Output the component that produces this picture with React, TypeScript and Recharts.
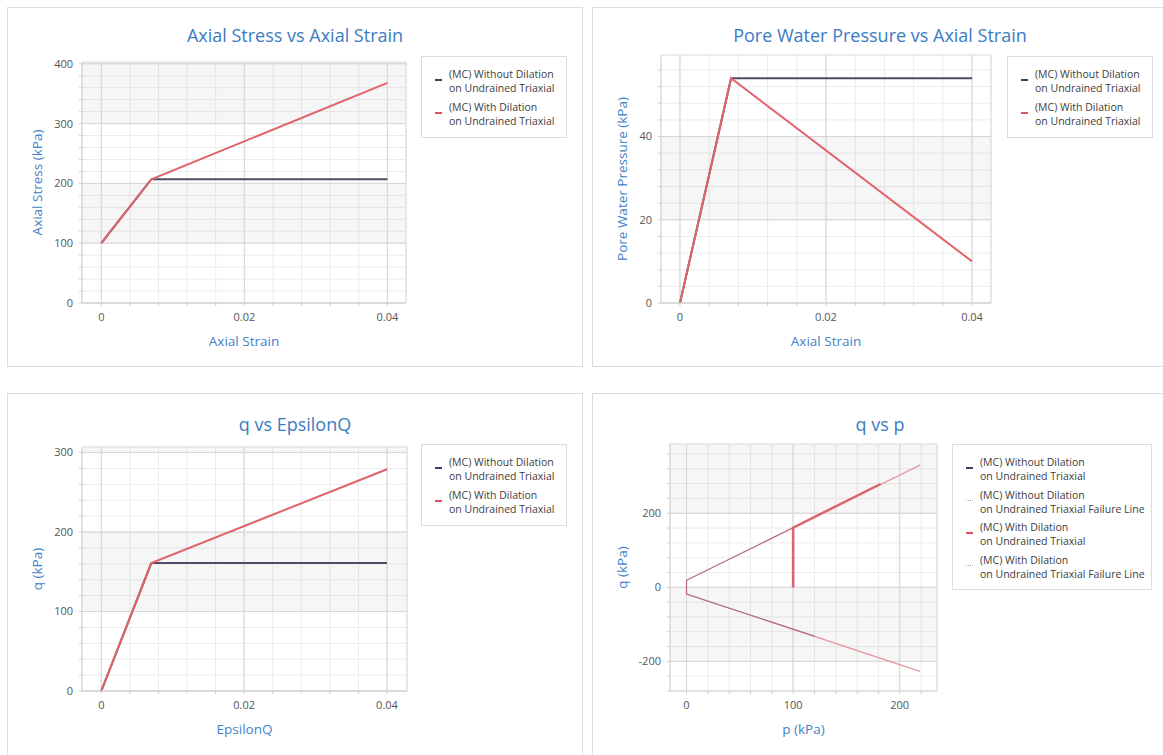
import React from 'react';
import { LineChart, Line, XAxis, YAxis, CartesianGrid, ReferenceLine, ReferenceArea } from 'recharts';

const FONT = '"Open Sans", "Noto Sans", sans-serif';
const TITLE_BLUE = '#3a7cc3';
const LABEL_BLUE = '#3f82c6';
const DARK = '#4d4d68';
const RED = '#e2626c';

// Axial stress / pore pressure vs axial strain
const axialStrain = [0, 0.007, 0.04];
const axialStressWithout = [100, 207, 207];
const axialStressWith = [100, 207, 368];
const poreWithout = [0, 54, 54];
const poreWith = [0, 54, 10];

// q vs EpsilonQ
const epsilonQ = [0, 0.007, 0.04];
const qEpsWithout = [0, 161, 161];
const qEpsWith = [0, 161, 279];

// q vs p stress paths and failure lines
const pPathWithout = [100, 100];
const qPathWithout = [0, 161];
const pPathWith = [100, 100, 182];
const qPathWith = [0, 161, 279];
const pFailWithout = [120, 0, 0, 120];
const qFailWithout = [189, 19, -18, -132];
const pFailWith = [219, 0, 0, 219];
const qFailWith = [330, 19, -18, -227];

// tick labels (majors) and grid steps
const strainMajor = [0, 0.02, 0.04];
const strainMinor = [0, 0.004, 0.008, 0.012, 0.016, 0.02, 0.024, 0.028, 0.032, 0.036, 0.04];
const stressMajor = [0, 100, 200, 300, 400];
const poreMajor = [0, 20, 40];
const qEpsMajor = [0, 100, 200, 300];
const pMajor = [0, 100, 200];
const qpMajor = [-200, 0, 200];

// shaded bands between major lines
const stressBands: [number, number][] = [[100, 200], [300, 403]];
const poreBands: [number, number][] = [[20, 40]];
const qEpsBands: [number, number][] = [[100, 200], [300, 307]];
const qpBands: [number, number][] = [[-200, 0], [200, 387]];

const legendTriaxial = [
  ['(MC) Without Dilation', 'on Undrained Triaxial'],
  ['(MC) With Dilation', 'on Undrained Triaxial'],
];
const legendQp = [
  ['(MC) Without Dilation', 'on Undrained Triaxial'],
  ['(MC) Without Dilation', 'on Undrained Triaxial Failure Line'],
  ['(MC) With Dilation', 'on Undrained Triaxial'],
  ['(MC) With Dilation', 'on Undrained Triaxial Failure Line'],
];

const steps = (a: number, b: number, s: number) =>
  Array.from({ length: Math.round((b - a) / s) + 1 }, (_, i) => +(a + i * s).toFixed(6));

const zip = (xs: number[], ys: number[]) => xs.map((x, i) => ({ x, y: ys[i] }));

const W = 576;
const H = 360;

const isMajor = (major: number[], v: number) => major.some((m) => Math.abs(m - v) < 1e-9);

const makeTick = (major: number[], axis: 'x' | 'y') => (props: any) => {
  const { x, y, payload } = props;
  const v = payload.value;
  if (!isMajor(major, v)) return <g />;
  return (
    <text
      x={x}
      y={y}
      dy={axis === 'x' ? '0.71em' : '0.355em'}
      textAnchor={axis === 'x' ? 'middle' : 'end'}
      fontSize={11}
      fill="#555"
      fontFamily={FONT}
    >
      {String(v)}
    </text>
  );
};

type Series = { data: { x: number; y: number }[]; color: string; width: number };
type LegendIcon = { color: string; dotted: boolean };

interface PanelProps {
  left: number;
  top: number;
  height: number;
  title: string;
  titleTop: number;
  xLabel: string;
  yLabel: string;
  xLabelOffset: number;
  xDomain: [number, number];
  yDomain: [number, number];
  xTicks: number[];
  xMajor: number[];
  yTicks: number[];
  yMajor: number[];
  bands: [number, number][];
  plot: { left: number; right: number; top: number; bottom: number };
  legend: { left: number; top: number; width: number; height: number };
  legendItems: string[][];
  legendIcons: LegendIcon[];
  series: Series[];
}

function Panel(p: PanelProps) {
  const { plot } = p;
  return (
    <div style={{ position: 'absolute', left: p.left, top: p.top, width: W, height: p.height, background: '#fff' }}>
      <div style={{ position: 'absolute', left: 0, top: 0, right: 0, bottom: 0, border: '1px solid #dcdcdc', boxSizing: 'border-box' }} />
      <div
        style={{
          position: 'absolute', left: 0, top: p.titleTop, width: W, textAlign: 'center',
          fontSize: 18, lineHeight: '22px', color: TITLE_BLUE, fontFamily: FONT,
        }}
      >
        {p.title}
      </div>
      <div style={{ position: 'absolute', left: 0, top: 0 }}>
        <LineChart
          width={W}
          height={H}
          margin={{ top: plot.top, right: W - plot.right, bottom: H - plot.bottom - 30, left: 0 }}
        >
          <CartesianGrid stroke="#ececec" fill="none" />
          {p.bands.map(([a, b], i) => (
            <ReferenceArea
              key={'b' + i}
              x1={p.xDomain[0]}
              x2={p.xDomain[1]}
              y1={a}
              y2={b}
              fill="#000"
              fillOpacity={0.035}
              stroke="none"
            />
          ))}
          {p.xMajor.map((v) => (
            <ReferenceLine key={'x' + v} x={v} stroke="#d6d6d6" />
          ))}
          {p.yMajor.map((v) => (
            <ReferenceLine key={'y' + v} y={v} stroke="#d6d6d6" />
          ))}
          <ReferenceLine x={p.xDomain[1]} stroke="#dadada" />
          <ReferenceLine y={p.yDomain[1]} stroke="#e2e2e2" />
          <XAxis
            type="number"
            dataKey="x"
            domain={p.xDomain}
            allowDataOverflow
            ticks={p.xTicks}
            interval={0}
            height={30}
            tick={makeTick(p.xMajor, 'x')}
            tickSize={3}
            tickMargin={7}
            axisLine={{ stroke: '#cfcfcf' }}
            tickLine={{ stroke: '#cfcfcf' }}
            label={{
              value: p.xLabel, position: 'bottom', offset: p.xLabelOffset,
              fill: LABEL_BLUE, fontSize: 13.5, fontFamily: FONT,
            }}
          />
          <YAxis
            type="number"
            domain={p.yDomain}
            allowDataOverflow
            ticks={p.yTicks}
            interval={0}
            width={plot.left}
            tick={makeTick(p.yMajor, 'y')}
            tickSize={3}
            tickMargin={6}
            axisLine={{ stroke: '#cfcfcf' }}
            tickLine={{ stroke: '#cfcfcf' }}
            label={{
              value: p.yLabel, angle: -90, position: 'insideLeft', offset: 30,
              fill: LABEL_BLUE, fontSize: 13.5, fontFamily: FONT, style: { textAnchor: 'middle' },
            }}
          />
          {p.series.map((s, i) => (
            <Line
              key={i}
              data={s.data}
              dataKey="y"
              type="linear"
              stroke={s.color}
              strokeWidth={s.width}
              dot={false}
              activeDot={false}
              isAnimationActive={false}
            />
          ))}
        </LineChart>
      </div>
      <div
        style={{
          position: 'absolute', left: p.legend.left, top: p.legend.top, width: p.legend.width, height: p.legend.height,
          border: '1px solid #dcdcdc', boxSizing: 'border-box', background: '#fff',
          fontFamily: FONT, fontSize: 10.5, color: '#404040',
        }}
      >
        {p.legendItems.map((it, i) => {
          const icon = p.legendIcons[i];
          return (
            <div key={i} style={{ position: 'absolute', left: 0, top: 10 + i * 32.5 }}>
              <div
                style={{
                  position: 'absolute', left: 13, top: 12, width: 7, height: 0,
                  borderTop: icon.dotted ? '1px dotted #aaa' : `2px solid ${icon.color}`,
                }}
              />
              <div style={{ position: 'absolute', left: 27, top: 0, lineHeight: '14px', whiteSpace: 'nowrap' }}>
                {it[0]}
                <br />
                {it[1]}
              </div>
            </div>
          );
        })}
      </div>
    </div>
  );
}

const twoIcons: LegendIcon[] = [
  { color: '#3c3f66', dotted: false },
  { color: '#e0505c', dotted: false },
];
const fourIcons: LegendIcon[] = [
  { color: '#3c3f66', dotted: false },
  { color: '#888', dotted: true },
  { color: '#e0505c', dotted: false },
  { color: '#e89aa2', dotted: true },
];

export default function App() {
  return (
    <div style={{ position: 'absolute', left: 0, top: 0, width: 1163, height: 755, overflow: 'hidden', background: '#fff', fontFamily: FONT }}>
      <Panel
        left={7}
        top={7}
        height={360}
        title="Axial Stress vs Axial Strain"
        titleTop={17}
        xLabel="Axial Strain"
        yLabel="Axial Stress (kPa)"
        xLabelOffset={3.5}
        xDomain={[-0.0027, 0.0426]}
        yDomain={[0, 403]}
        xTicks={strainMinor}
        xMajor={strainMajor}
        yTicks={steps(0, 400, 20)}
        yMajor={stressMajor}
        bands={stressBands}
        plot={{ left: 75, right: 399, top: 55, bottom: 296 }}
        legend={{ left: 414, top: 49, width: 146, height: 82 }}
        legendItems={legendTriaxial}
        legendIcons={twoIcons}
        series={[
          { data: zip(axialStrain, axialStressWithout), color: DARK, width: 2 },
          { data: zip(axialStrain, axialStressWith), color: RED, width: 2 },
        ]}
      />
      <Panel
        left={592}
        top={7}
        height={360}
        title="Pore Water Pressure vs Axial Strain"
        titleTop={17}
        xLabel="Axial Strain"
        yLabel="Pore Water Pressure (kPa)"
        xLabelOffset={3.5}
        xDomain={[-0.0026, 0.0426]}
        yDomain={[0, 59.6]}
        xTicks={strainMinor}
        xMajor={strainMajor}
        yTicks={steps(0, 56, 4)}
        yMajor={poreMajor}
        bands={poreBands}
        plot={{ left: 69, right: 399, top: 48, bottom: 296 }}
        legend={{ left: 415, top: 49, width: 146, height: 82 }}
        legendItems={legendTriaxial}
        legendIcons={twoIcons}
        series={[
          { data: zip(axialStrain, poreWithout), color: DARK, width: 2 },
          { data: zip(axialStrain, poreWith), color: RED, width: 2 },
        ]}
      />
      <Panel
        left={7}
        top={393}
        height={372}
        title="q vs EpsilonQ"
        titleTop={20}
        xLabel="EpsilonQ"
        yLabel="q (kPa)"
        xLabelOffset={3.5}
        xDomain={[-0.0027, 0.0428]}
        yDomain={[0, 307]}
        xTicks={strainMinor}
        xMajor={strainMajor}
        yTicks={steps(0, 300, 20)}
        yMajor={qEpsMajor}
        bands={qEpsBands}
        plot={{ left: 75, right: 400, top: 54, bottom: 298 }}
        legend={{ left: 414, top: 51, width: 146, height: 82 }}
        legendItems={legendTriaxial}
        legendIcons={twoIcons}
        series={[
          { data: zip(epsilonQ, qEpsWithout), color: DARK, width: 2 },
          { data: zip(epsilonQ, qEpsWith), color: RED, width: 2 },
        ]}
      />
      <Panel
        left={592}
        top={393}
        height={372}
        title="q vs p"
        titleTop={20}
        xLabel="p (kPa)"
        yLabel="q (kPa)"
        xLabelOffset={3}
        xDomain={[-15.5, 235]}
        yDomain={[-280, 387]}
        xTicks={steps(0, 220, 20)}
        xMajor={pMajor}
        yTicks={steps(-280, 360, 40)}
        yMajor={qpMajor}
        bands={qpBands}
        plot={{ left: 78, right: 345, top: 51, bottom: 298 }}
        legend={{ left: 360, top: 51, width: 200, height: 146 }}
        legendItems={legendQp}
        legendIcons={fourIcons}
        series={[
          { data: zip(pFailWith, qFailWith), color: '#e8949c', width: 1.2 },
          { data: zip(pFailWithout, qFailWithout), color: 'rgba(100,45,75,0.4)', width: 1.2 },
          { data: zip(pPathWithout, qPathWithout), color: DARK, width: 2 },
          { data: zip(pPathWith, qPathWith), color: RED, width: 2.5 },
        ]}
      />
    </div>
  );
}
